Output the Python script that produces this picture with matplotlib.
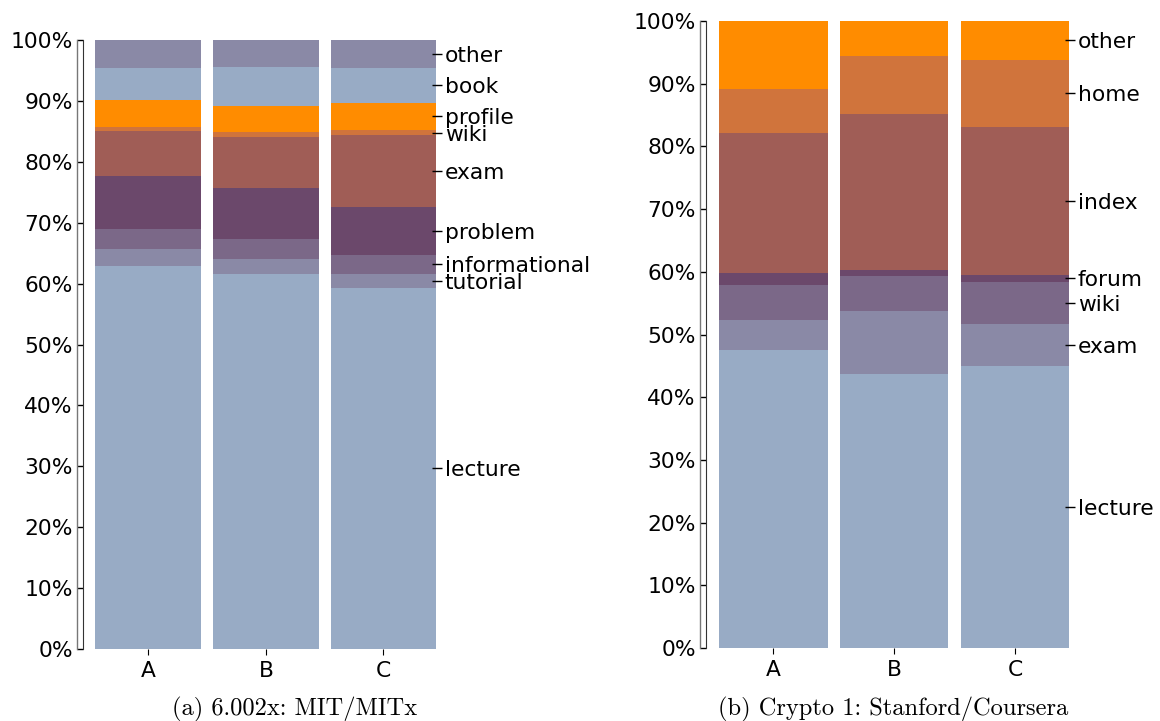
import numpy as np
import matplotlib.pyplot as plt
import matplotlib.transforms as mtransforms

# ---------------------------------------------------------------
# data (percent of page views)
groups = ["A", "B", "C"]

cats_a = ["lecture", "tutorial", "informational", "problem", "exam",
          "wiki", "profile", "book", "other"]
vals_a_A = [62.9, 2.8, 3.3, 8.7, 7.4, 0.6, 4.5, 5.2, 4.6]
vals_a_B = [61.6, 2.4, 3.3, 8.4, 8.4, 0.8, 4.3, 6.4, 4.4]
vals_a_C = [59.3, 2.3, 3.1, 7.9, 11.8, 0.8, 4.5, 5.7, 4.6]

cats_b = ["lecture", "exam", "wiki", "forum", "index", "home", "other"]
vals_b_A = [47.5, 4.8, 5.6, 1.9, 22.3, 7.1, 10.8]
vals_b_B = [43.7, 10.0, 5.6, 1.0, 24.9, 9.2, 5.6]
vals_b_C = [45.0, 6.7, 6.7, 1.1, 23.6, 10.7, 6.2]

caption_a = "(a) 6.002x: MIT/MITx"
caption_b = "(b) Crypto 1: Stanford/Coursera"

palette = ["#98abc5", "#8a89a6", "#7b6888", "#6b486b",
           "#a05d56", "#d0743c", "#ff8c00"]

FS = 15.7

# ---------------------------------------------------------------
fig = plt.figure(figsize=(11.6, 7.21), dpi=100)


def panel(rect, cats, series):
    ax = fig.add_axes(rect)
    x = np.arange(len(series))
    data = np.array(series)          # groups x cats
    bottom = np.zeros(len(series))
    for i, c in enumerate(cats):
        ax.bar(x, data[:, i], 0.9, bottom=bottom,
               color=palette[i % len(palette)], linewidth=0)
        bottom += data[:, i]

    ax.set_xlim(-0.555, 2.455)
    ax.set_ylim(0, 100)
    ax.set_xticks(x)
    ax.set_xticklabels(groups, fontsize=FS)
    ax.set_yticks(np.arange(0, 101, 10))
    ax.set_yticklabels(["%d%%" % v for v in range(0, 101, 10)], fontsize=FS)
    ax.tick_params(axis="y", direction="out", length=4.3, width=1,
                   color="black", pad=3)
    ax.tick_params(axis="x", direction="out", length=4.3, width=0.8, pad=4)
    for s in ["top", "right", "bottom"]:
        ax.spines[s].set_visible(False)
    ax.spines["left"].set_color("#333333")

    # thin box that closes the axis on the left
    trans = mtransforms.offset_copy(ax.transAxes, fig=fig, x=-6, y=0,
                                    units="dots")
    ax.plot([0, 0], [0, 1], transform=trans, color="#777777", lw=1,
            clip_on=False)

    # labels on the right at the middle of the last bar's segments
    last = data[-1]
    mids = np.cumsum(last) - last / 2.0
    ax2 = ax.twinx()
    ax2.set_ylim(0, 100)
    ax2.set_yticks(mids)
    ax2.set_yticklabels(cats, fontsize=FS)
    ax2.tick_params(axis="y", direction="inout", length=7, width=1, pad=2)
    for s in ax2.spines.values():
        s.set_visible(False)
    return ax


panel([83 / 1160, 72 / 721, 354 / 1160, 609 / 721], cats_a,
      [vals_a_A, vals_a_B, vals_a_C])
panel([706 / 1160, 73 / 721, 364 / 1160, 627 / 721], cats_b,
      [vals_b_A, vals_b_B, vals_b_C])

fig.text(295 / 1160, 1 - 709 / 721, caption_a, ha="center", va="center",
         fontsize=17.6, family="cmr10")
fig.text(893 / 1160, 1 - 709 / 721, caption_b, ha="center", va="center",
         fontsize=17.6, family="cmr10")

plt.savefig("out.png", dpi=100)
